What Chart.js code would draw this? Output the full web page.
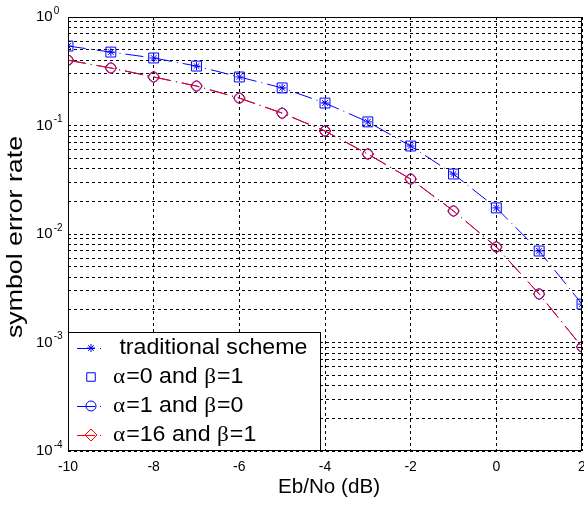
<!DOCTYPE html>
<html>
<head>
<meta charset="utf-8">
<script src="https://cdn.jsdelivr.net/npm/chart.js@4.4.1/dist/chart.umd.min.js"></script>
<style>
  html, body { margin: 0; padding: 0; background: #fff; }
  #wrap { width: 584px; height: 505px; }
</style>
</head>
<body>
<div id="wrap"><canvas id="serChart" width="584" height="505"></canvas></div>
<script>
const ebNo = [-10, -9, -8, -7, -6, -5, -4, -3, -2, -1, 0, 1, 2];
const traditionalSer = [0.54, 0.475, 0.419, 0.353, 0.28, 0.222, 0.161, 0.108, 0.0647, 0.0357, 0.0174, 0.00697, 0.00226];
const alpha0beta1Ser = [0.54, 0.475, 0.419, 0.353, 0.28, 0.222, 0.161, 0.108, 0.0647, 0.0357, 0.0174, 0.00697, 0.00226];
const alpha1beta0Ser = [0.40, 0.339, 0.28, 0.231, 0.179, 0.130, 0.089, 0.0546, 0.0321, 0.0163, 0.00759, 0.0028, 0.00091];
const alpha16beta1Ser = [0.40, 0.339, 0.28, 0.231, 0.179, 0.130, 0.089, 0.0546, 0.0321, 0.0163, 0.00759, 0.0028, 0.00091];
const seriesLabels = [' traditional scheme', 'α=0 and β=1', 'α=1 and β=0', 'α=16 and β=1'];
const xTicks = [-10, -8, -6, -4, -2, 0, 2];
const yDecades = [0, -1, -2, -3, -4];

const sans = '"Liberation Sans", Arial, sans-serif';
const serif = '"Liberation Serif", "Times New Roman", serif';
const BLUE = '#0000ff';
const RED = '#ff0000';
const lineDash = [18, 5, 1, 5];

function pts(values) {
  return values.map((v, i) => ({ x: ebNo[i], y: v }));
}

// minor + major log ticks, 1..9 x 10^n
function logTicks() {
  const out = [];
  for (let e = -4; e < 0; e++) {
    for (let m = 1; m <= 9; m++) out.push({ value: m * Math.pow(10, e) });
  }
  out.push({ value: 1 });
  return out;
}

// text with greek letters in a serif face
function mixedWidth(ctx, text, size) {
  let w = 0;
  for (const ch of text) {
    const greek = ch === 'α' || ch === 'β';
    ctx.font = size + 'px ' + (greek ? serif : sans);
    w += ctx.measureText(ch).width + (greek ? 1 : 0);
  }
  return w;
}
function drawMixed(ctx, text, x, y, size) {
  let cx = x;
  for (const ch of text) {
    const greek = ch === 'α' || ch === 'β';
    ctx.font = size + 'px ' + (greek ? serif : sans);
    ctx.fillText(ch, cx, y);
    cx += ctx.measureText(ch).width + (greek ? 1 : 0);
  }
}

const overlay = {
  id: 'overlay',
  afterDraw(chart) {
    const ctx = chart.ctx;
    const a = chart.chartArea;
    const ys = chart.scales.y;
    ctx.save();

    // frame
    ctx.strokeStyle = '#000';
    ctx.lineWidth = 1;
    ctx.setLineDash([]);
    ctx.strokeRect(a.left + 0.5, a.top + 0.5, a.right - a.left - 1, a.bottom - a.top - 1);

    // y tick labels as 10^n
    ctx.fillStyle = '#000';
    ctx.textBaseline = 'middle';
    ctx.textAlign = 'left';
    yDecades.forEach(e => {
      const py = ys.getPixelForValue(Math.pow(10, e));
      ctx.font = '15px ' + sans;
      ctx.fillText('10', 36, py);
      const w = ctx.measureText('10').width;
      ctx.font = '10px ' + sans;
      ctx.fillText(String(e), 36 + w + 1, py - 6);
    });

    // axis titles
    ctx.textAlign = 'center';
    ctx.save();
    ctx.translate(329, 487);
    ctx.font = '21px ' + sans;
    ctx.scale(102 / ctx.measureText('Eb/No (dB)').width, 1);
    ctx.fillText('Eb/No (dB)', 0, 0);
    ctx.restore();
    ctx.save();
    ctx.translate(16, 237);
    ctx.rotate(-Math.PI / 2);
    ctx.font = '22px ' + sans;
    ctx.scale(202 / ctx.measureText('symbol error rate').width, 1);
    ctx.fillText('symbol error rate', 0, 0);
    ctx.restore();

    // legend box
    const lx = a.left, ly = 332, lw = 253, lh = a.bottom - 332;
    ctx.fillStyle = '#fff';
    ctx.fillRect(lx, ly, lw, lh);
    ctx.strokeStyle = '#000';
    ctx.strokeRect(lx + 0.5, ly + 0.5, lw - 1, lh - 1);

    const fs = 22;
    const sx = 188 / (mixedWidth(ctx, seriesLabels[0], fs) - mixedWidth(ctx, ' ', fs));

    chart.data.datasets.forEach((ds, i) => {
      const ry = 348 + i * 29;
      ctx.strokeStyle = ds.borderColor;
      if (ds.showLine !== false) {
        ctx.lineWidth = 1;
        ctx.setLineDash(lineDash);
        ctx.beginPath();
        ctx.moveTo(lx + 9, ry + 0.5);
        ctx.lineTo(lx + 38, ry + 0.5);
        ctx.stroke();
        ctx.setLineDash([]);
      }
      ctx.fillStyle = 'rgba(0,0,0,0)';
      Chart.helpers.drawPoint(ctx, {
        pointStyle: ds.pointStyle, radius: Math.min(ds.pointRadius, 6), rotation: 0, borderWidth: 1
      }, lx + 23, ry);
      ctx.fillStyle = '#000';
      ctx.textAlign = 'left';
      ctx.textBaseline = 'middle';
      ctx.save();
      ctx.translate(113, ry);
      ctx.scale(sx, 1);
      drawMixed(ctx, seriesLabels[i], 0, 0, fs);
      ctx.restore();
    });

    ctx.restore();
  }
};

const ctx = document.getElementById('serChart').getContext('2d');
const serChart = new Chart(ctx, {
  type: 'line',
  data: {
    datasets: [
      {
        label: seriesLabels[0], data: pts(traditionalSer), order: 4,
        borderColor: BLUE, borderWidth: 1, borderDash: lineDash,
        pointStyle: 'star', pointRadius: 4, pointBorderColor: BLUE, pointBackgroundColor: 'rgba(0,0,0,0)'
      },
      {
        label: seriesLabels[1], data: pts(alpha0beta1Ser), order: 3, showLine: false,
        borderColor: BLUE, borderWidth: 1,
        pointStyle: 'rect', pointRadius: 7, pointBorderColor: BLUE, pointBackgroundColor: 'rgba(0,0,0,0)'
      },
      {
        label: seriesLabels[2], data: pts(alpha1beta0Ser), order: 2,
        borderColor: BLUE, borderWidth: 1, borderDash: lineDash,
        pointStyle: 'circle', pointRadius: 5, pointBorderColor: BLUE, pointBackgroundColor: 'rgba(0,0,0,0)'
      },
      {
        label: seriesLabels[3], data: pts(alpha16beta1Ser), order: 1,
        borderColor: RED, borderWidth: 1, borderDash: lineDash,
        pointStyle: 'rectRot', pointRadius: 6, pointBorderColor: RED, pointBackgroundColor: 'rgba(0,0,0,0)'
      }
    ]
  },
  options: {
    responsive: false,
    animation: false,
    layout: { autoPadding: false, padding: { top: 17, right: 2, left: 0, bottom: 0 } },
    elements: { line: { tension: 0 } },
    scales: {
      x: {
        type: 'linear', min: -10, max: 2,
        afterBuildTicks: s => { s.ticks = xTicks.map(v => ({ value: v })); },
        afterFit: s => { s.height = 54; s.paddingLeft = 0; s.paddingRight = 0; },
        ticks: { color: '#000', font: { size: 14, family: sans }, padding: 8, maxRotation: 0 },
        grid: { color: '#000', lineWidth: 1, drawTicks: false },
        border: { display: false, dash: [3, 3] }
      },
      y: {
        type: 'logarithmic', min: 1e-4, max: 1,
        afterBuildTicks: s => { s.ticks = logTicks(); },
        afterFit: s => { s.width = 68; },
        ticks: { callback: () => '', autoSkip: false },
        grid: { color: '#000', lineWidth: 1, drawTicks: false },
        border: { display: false, dash: [3, 3] }
      }
    },
    plugins: {
      legend: { display: false },
      tooltip: { enabled: false }
    }
  },
  plugins: [overlay]
});
</script>
</body>
</html>
